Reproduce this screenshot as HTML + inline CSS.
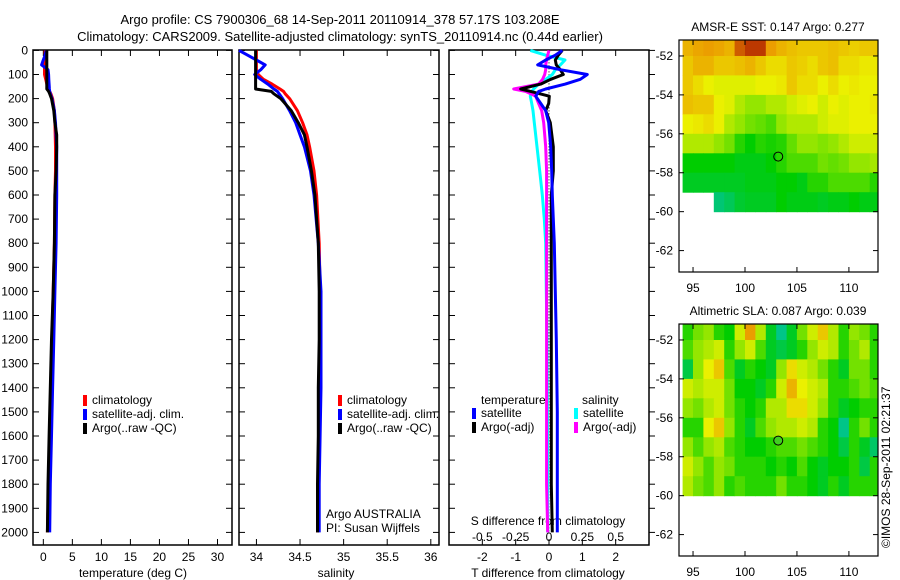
<!DOCTYPE html>
<html><head><meta charset="utf-8"><style>
body{margin:0;background:#fff;}
svg{display:block;font-family:"Liberation Sans",sans-serif;font-size:12px;}
</style></head><body>
<svg id="chart" width="900" height="580" viewBox="0 0 900 580">
<text x="340" y="24" text-anchor="middle" font-size="13">Argo profile: CS 7900306_68 14-Sep-2011 20110914_378 57.17S 103.208E</text>
<text x="340" y="41" text-anchor="middle" font-size="13">Climatology: CARS2009. Satellite-adjusted climatology: synTS_20110914.nc (0.44d earlier)</text>
<g id="g1"></g>
<g id="g2"></g>
<g id="g3"></g>
<g id="m1"></g>
<g id="m2"></g>
<text transform="translate(890,548) rotate(-90)" font-size="12">©IMOS 28-Sep-2011 02:21:37</text>
</svg>
<script>
// ---- profile data ----
const depthTicks=[0,100,200,300,400,500,600,700,800,900,1000,1100,1200,1300,1400,1500,1600,1700,1800,1900,2000];
const profDepth=[0,20,40,60,80,100,120,140,160,170,180,200,250,300,350,400,500,600,800,1000,1200,1400,1600,1800,2000];
const tempClim=[0.3,0.3,0.3,0.2,0.2,0.2,0.4,0.6,0.9,1.1,1.3,1.6,1.9,2.0,2.05,2.1,2.1,2.0,1.9,1.7,1.5,1.3,1.1,0.9,0.7];
const tempSat=[0.5,0.3,0.0,-0.3,0.8,0.9,0.95,1.0,1.05,1.1,1.2,1.5,1.9,2.1,2.2,2.3,2.3,2.3,2.2,2.0,1.8,1.6,1.4,1.2,1.1];
const tempArgo=[0.6,0.6,0.6,0.6,0.6,0.6,0.6,0.6,0.6,0.9,1.1,1.4,1.8,2.0,2.3,2.3,2.2,2.0,1.9,1.7,1.4,1.2,1.0,0.8,0.7];
const salClim=[34.0,34.0,34.0,34.0,34.0,34.02,34.08,34.18,34.27,34.31,34.33,34.38,34.47,34.53,34.58,34.61,34.66,34.69,34.72,34.73,34.73,34.73,34.72,34.71,34.70];
const salSat=[33.8,33.9,34.0,34.1,34.05,33.98,34.05,34.13,34.2,34.24,34.26,34.3,34.38,34.45,34.5,34.55,34.62,34.66,34.71,34.74,34.74,34.74,34.73,34.72,34.72];
const salArgo=[33.99,33.99,33.99,33.99,33.99,33.99,33.99,33.99,33.99,34.17,34.2,34.28,34.4,34.48,34.55,34.58,34.63,34.67,34.71,34.72,34.72,34.71,34.71,34.70,34.70];
const diffDepth=[0,20,40,60,80,100,120,140,160,170,190,220,250,300,400,500,600,700,800,1000,1200,1500,1800,2000];
const dTsat=[0.40,0.19,-0.10,-0.34,0.34,1.15,0.94,0.49,-0.10,-0.31,-0.40,-0.25,-0.10,-0.01,0.05,0.08,0.10,0.13,0.16,0.19,0.22,0.25,0.25,0.25];
const dTargo=[0.40,0.28,0.19,0.22,0.34,0.43,0.05,-0.25,-0.85,-0.55,0.01,-0.01,-0.10,0.04,0.13,0.13,0.07,0.07,0.07,0.07,0.07,0.07,0.07,0.10];
const dSsat=[-0.14,-0.025,0.12,0.085,0.048,0.025,-0.025,-0.078,-0.115,-0.13,-0.14,-0.13,-0.12,-0.11,-0.09,-0.07,-0.05,-0.035,-0.025,-0.02,-0.015,-0.012,-0.01,-0.01];
const dSargo=[0,-0.01,-0.018,-0.025,-0.025,-0.032,-0.048,-0.078,-0.265,-0.175,-0.1,-0.078,-0.055,-0.04,-0.025,-0.018,-0.018,-0.018,-0.018,-0.018,-0.018,-0.018,-0.018,-0.01];
const tempTicks=[0,5,10,15,20,25,30];
const salTicks=[34,34.5,35,35.5,36];
const tdTicks=[-2,-1,0,1,2];
const sdTicks=[-0.5,-0.25,0,0.25,0.5];
const sdTickLabels=["-0.5","-0.25","0","0.25","0.5"];
// ---- map data (rows lat -51..-60, cols lon 94..112) ----
const mapLonStart=94, mapLatStart=-51;
const sstGrid=[
[0.75,0.78,0.8,0.78,0.75,0.9,0.95,0.95,0.8,0.75,0.72,0.7,0.7,0.7,0.72,0.7,0.68,0.7,0.7],
[0.7,0.75,0.75,0.7,0.7,0.72,0.75,0.7,0.65,0.65,0.7,0.68,0.65,0.7,0.72,0.65,0.65,0.62,0.62],
[0.7,0.65,0.6,0.58,0.58,0.58,0.58,0.6,0.6,0.62,0.7,0.65,0.65,0.6,0.65,0.6,0.62,0.6,0.6],
[0.72,0.7,0.7,0.6,0.58,0.5,0.45,0.45,0.5,0.5,0.55,0.58,0.6,0.55,0.6,0.58,0.6,0.6,0.62],
[0.6,0.62,0.65,0.6,0.5,0.45,0.4,0.38,0.35,0.45,0.5,0.5,0.5,0.55,0.58,0.58,0.6,0.6,0.6],
[0.5,0.5,0.5,0.45,0.4,0.3,0.25,0.3,0.28,0.3,0.38,0.45,0.45,0.42,0.45,0.5,0.55,0.55,0.55],
[0.25,0.25,0.25,0.25,0.25,0.22,0.22,0.22,0.25,0.3,0.35,0.35,0.35,0.4,0.38,0.4,0.45,0.45,0.48],
[0.2,0.2,0.2,0.2,0.2,0.2,0.22,0.22,0.22,0.25,0.25,0.22,0.3,0.3,0.35,0.35,0.35,0.35,0.3],
[null,null,null,0.08,0.12,0.18,0.2,0.2,0.2,0.25,0.22,0.22,0.22,0.2,0.22,0.22,0.25,0.22,0.22]];
const slaGrid=[
[0.3,0.4,0.45,0.3,0.25,0.55,0.8,0.5,0.2,0.05,0.2,0.4,0.55,0.7,0.5,0.3,0.45,0.4,0.3],
[0.35,0.45,0.5,0.55,0.3,0.45,0.55,0.35,0.2,0.15,0.2,0.3,0.45,0.55,0.5,0.3,0.4,0.5,0.3],
[0.15,0.45,0.6,0.7,0.35,0.2,0.3,0.25,0.2,0.45,0.65,0.55,0.5,0.4,0.3,0.2,0.4,0.4,0.3],
[0.55,0.5,0.55,0.55,0.4,0.25,0.25,0.2,0.3,0.55,0.75,0.6,0.55,0.5,0.3,0.3,0.35,0.4,0.35],
[0.45,0.4,0.5,0.55,0.4,0.3,0.25,0.3,0.5,0.5,0.65,0.65,0.55,0.45,0.3,0.2,0.25,0.3,0.3],
[0.3,0.3,0.6,0.7,0.45,0.3,0.2,0.35,0.45,0.5,0.5,0.55,0.5,0.3,0.25,0.05,0.3,0.4,0.3],
[0.45,0.35,0.45,0.5,0.35,0.3,0.25,0.25,0.3,0.35,0.35,0.4,0.35,0.3,0.25,0.15,0.3,0.2,0.1],
[0.55,0.45,0.35,0.45,0.4,0.3,0.3,0.3,0.25,0.3,0.25,0.35,0.25,0.2,0.25,0.25,0.3,0.15,0.3],
[0.5,0.4,0.35,0.45,0.3,0.35,0.3,0.3,0.3,0.4,0.3,0.3,0.25,0.2,0.3,0.2,0.3,0.3,0.3]];
const mapLonTicks=[95,100,105,110];
const mapLatTicks=[-52,-54,-56,-58,-60,-62];
const argoLon=103.2, argoLat=-57.17;

const NS="http://www.w3.org/2000/svg";
function mk(parent,tag,attrs,text){const e=document.createElementNS(NS,tag);for(const k in attrs)e.setAttribute(k,attrs[k]);if(text!==undefined)e.textContent=text;parent.appendChild(e);return e;}
const yD=d=>50.4+d*0.241;
const PT=545;

function panel(g,x0,x1,xmin,xmax){
  const sx=v=>x0+(v-xmin)/(xmax-xmin)*(x1-x0);
  const r=mk(g,'rect',{x:x0,y:50,width:x1-x0,height:PT-50,fill:'none',stroke:'#000','stroke-width':1.5});
  
  
  return sx;
}
function line(g,xs,ys,sx,color,name,w){
  let d='';for(let i=0;i<xs.length;i++){d+=(i?'L':'M')+sx(xs[i]).toFixed(1)+','+yD(ys[i]).toFixed(1);}
  const p=mk(g,'path',{d:d,fill:'none',stroke:color,'stroke-width':w||3,'stroke-linejoin':'round'});
  
  
}
function depthTicksOn(g,x,dir,labels){
  depthTicks.forEach(d=>{
    mk(g,'line',{x1:x,x2:x+dir*6,y1:yD(d),y2:yD(d),stroke:'#000'});
    if(labels){const t=mk(g,'text',{x:28,y:yD(d)+4,'text-anchor':'end'},String(d));
      
      }
  });
}
function xTicks(g,ticks,sx,labels,ly){
  ticks.forEach((v,i)=>{
    const x=sx(v);
    mk(g,'line',{x1:x,x2:x,y1:50,y2:56,stroke:'#000'});
    mk(g,'line',{x1:x,x2:x,y1:PT,y2:PT-6,stroke:'#000'});
    const t=mk(g,'text',{x:x,y:ly,'text-anchor':'middle'},labels?labels[i]:String(v));
    
    
  });
}
function legend(g,x,y,items){
  items.forEach((it,i)=>{
    mk(g,'rect',{x:x,y:y+i*14-9,width:4,height:11,fill:it[0]});
    const t=mk(g,'text',{x:x+9,y:y+i*14},it[1]);
    
    
  });
}
// Panel 1: temperature
const g1=document.getElementById('g1');
const sxT=panel(g1,33,232,-1.78,32.5);
depthTicksOn(g1,33,1,true);depthTicksOn(g1,232,-1,false);
xTicks(g1,tempTicks,sxT,null,561);
mk(g1,'text',{x:133,y:577,'text-anchor':'middle'},'temperature (deg C)');
line(g1,tempClim,profDepth,sxT,'#f00','temp-climatology-line');
line(g1,tempSat,profDepth,sxT,'#00f','temp-satellite-line');
line(g1,tempArgo,profDepth,sxT,'#000','temp-argo-line');
legend(g1,83,404,[['#f00','climatology'],['#00f','satellite-adj. clim.'],['#000','Argo(..raw -QC)']]);
// Panel 2: salinity
const g2=document.getElementById('g2');
const sxS=panel(g2,239,439,33.8,36.094);
depthTicksOn(g2,239,1,false);depthTicksOn(g2,439,-1,false);
xTicks(g2,salTicks,sxS,null,561);
mk(g2,'text',{x:336,y:577,'text-anchor':'middle'},'salinity');
line(g2,salClim,profDepth,sxS,'#f00','sal-climatology-line');
line(g2,salSat,profDepth,sxS,'#00f','sal-satellite-line');
line(g2,salArgo,profDepth,sxS,'#000','sal-argo-line');
legend(g2,338,404,[['#f00','climatology'],['#00f','satellite-adj. clim.'],['#000','Argo(..raw -QC)']]);
mk(g2,'text',{x:326,y:518},'Argo AUSTRALIA');
mk(g2,'text',{x:326,y:532},'PI: Susan Wijffels');
// Panel 3: differences
const g3=document.getElementById('g3');
const sxD=panel(g3,449,649,-3,3);
const sxSD=v=>sxD(v*4);
depthTicksOn(g3,449,1,false);depthTicksOn(g3,649,1,false);
xTicks(g3,tdTicks,sxD,null,561);
sdTicks.forEach((v,i)=>{const t=mk(g3,'text',{x:sxSD(v),y:541,'text-anchor':'middle'},sdTickLabels[i]);
  
  });
mk(g3,'text',{x:548,y:525,'text-anchor':'middle'},'S difference from climatology');
mk(g3,'text',{x:548,y:577,'text-anchor':'middle'},'T difference from climatology');
mk(g3,'line',{x1:sxD(0),x2:sxD(0),y1:yD(0),y2:yD(2000),stroke:'#000','stroke-dasharray':'1,2'});
line(g3,dSsat,diffDepth,sxSD,'#0ff','s-diff-satellite-line');
line(g3,dSargo,diffDepth,sxSD,'#f0f','s-diff-argo-line');
line(g3,dTargo,diffDepth,sxD,'#000','t-diff-argo-line');
line(g3,dTsat,diffDepth,sxD,'#00f','t-diff-satellite-line');
mk(g3,'text',{x:481,y:404},'temperature');
legend(g3,472,417,[['#00f','satellite'],['#000','Argo(-adj)']]);
mk(g3,'text',{x:582,y:404},'salinity');
legend(g3,574,417,[['#0ff','satellite'],['#f0f','Argo(-adj)']]);
// Maps
function cmap(v){
  const st=[[0,[0,195,170]],[0.25,[0,205,0]],[0.42,[130,228,0]],[0.6,[235,240,0]],[0.82,[235,150,0]],[1,[170,20,0]]];
  v=Math.max(0,Math.min(1,v));
  for(let i=1;i<st.length;i++){if(v<=st[i][0]){const a=st[i-1],b=st[i];const t=(v-a[0])/(b[0]-a[0]);
    return 'rgb('+a[1].map((c,k)=>Math.round(c+(b[1][k]-c)*t)).join(',')+')';}}
  return 'rgb(170,20,0)';
}
function drawMap(g,top,grid,title,fillCircle){
  const x0=679,x1=878,bot=top+232;
  const lon0=93.65,lon1=112.8,lat0=-51.18,lat1=-63.1;
  const sx=v=>x0+(v-lon0)/(lon1-lon0)*(x1-x0);
  const sy=v=>top+(v-lat0)/(lat1-lat0)*(bot-top);
  const cp='clip'+top;
  const c=mk(g,'clipPath',{id:cp});mk(c,'rect',{x:x0,y:top,width:x1-x0,height:bot-top});
  const cg=mk(g,'g',{'clip-path':'url(#'+cp+')'});
  grid.forEach((row,r)=>row.forEach((v,k)=>{
    if(v===null)return;
    const la=mapLatStart-r, lo=mapLonStart+k;
    const cell=mk(cg,'rect',{x:sx(lo).toFixed(1),y:sy(la).toFixed(1),width:(sx(lo+1)-sx(lo)+0.5).toFixed(1),height:(sy(la-1)-sy(la)+0.5).toFixed(1),fill:cmap(v)});
    
    
  }));
  mk(g,'rect',{x:x0,y:top,width:x1-x0,height:bot-top,fill:'none',stroke:'#000','stroke-width':1.2});
  const t=mk(g,'text',{x:778,y:top-9,'text-anchor':'middle'},title);
  
  
  mapLonTicks.forEach(v=>{const x=sx(v);
    mk(g,'line',{x1:x,x2:x,y1:top,y2:top+5,stroke:'#000'});mk(g,'line',{x1:x,x2:x,y1:bot,y2:bot-5,stroke:'#000'});
    const l=mk(g,'text',{x:x,y:bot+20,'text-anchor':'middle'},String(v));
    
    });
  mapLatTicks.forEach(v=>{const y=sy(v);
    mk(g,'line',{x1:x0,x2:x0+5,y1:y,y2:y,stroke:'#000'});mk(g,'line',{x1:x1,x2:x1-5,y1:y,y2:y,stroke:'#000'});
    const l=mk(g,'text',{x:673,y:y+4,'text-anchor':'end'},String(v));
    
    });
  const ci=mk(g,'circle',{cx:sx(argoLon),cy:sy(argoLat),r:4.5,fill:fillCircle?'#40d020':'none',stroke:'#000','stroke-width':1});
  
  
}
drawMap(document.getElementById('m1'),40,sstGrid,'AMSR-E SST: 0.147 Argo: 0.277',false);
drawMap(document.getElementById('m2'),324,slaGrid,'Altimetric SLA: 0.087 Argo: 0.039',true);
</script>
</body></html>
